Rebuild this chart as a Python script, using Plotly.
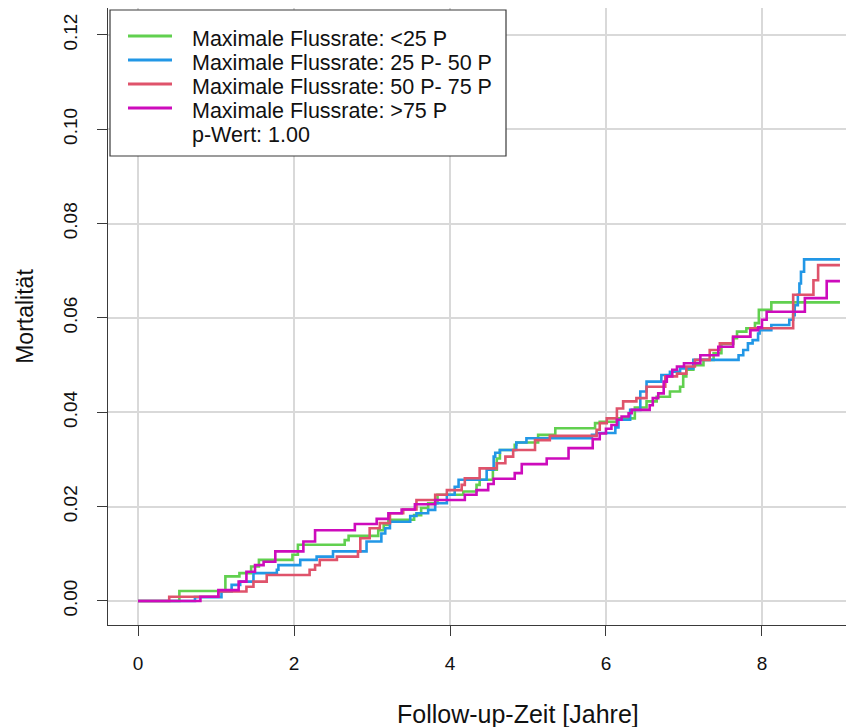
import plotly.graph_objects as go

# ---- data (cumulative mortality step functions) ----
green_t = [0, 0.53, 1.12, 1.30, 1.45, 1.55, 1.98, 2.05, 2.65, 2.70, 3.08, 3.15, 3.21, 3.54, 3.63, 3.72,
           3.84, 4.17, 4.34, 4.38, 4.55, 4.60, 4.64, 4.83, 4.85, 5.13, 5.35, 5.86, 5.92, 6.14, 6.37,
           6.52, 6.65, 6.82, 6.95, 6.99, 7.03, 7.12, 7.25, 7.38, 7.48, 7.63, 7.68, 7.80, 7.91, 7.96,
           8.12, 9.00]
green_m = [0, 0.0021, 0.0052, 0.0059, 0.0073, 0.0087, 0.0098, 0.0119, 0.0129, 0.0138, 0.0150, 0.0161,
           0.0172, 0.0182, 0.0197, 0.0207, 0.0225, 0.0232, 0.0246, 0.0257, 0.0278, 0.0302, 0.0320,
           0.0331, 0.0336, 0.0352, 0.0366, 0.0377, 0.0380, 0.0387, 0.0410, 0.0423, 0.0433, 0.0444,
           0.0454, 0.0476, 0.0490, 0.0500, 0.0511, 0.0525, 0.0545, 0.0557, 0.0571, 0.0578, 0.0589,
           0.0617, 0.0633, 0.0633]

blue_t = [0, 0.73, 1.07, 1.20, 1.31, 1.48, 1.78, 1.80, 2.08, 2.29, 2.50, 2.93, 3.12, 3.17, 3.23, 3.49,
          3.57, 3.72, 3.81, 3.96, 4.06, 4.11, 4.47, 4.56, 4.58, 4.64, 4.85, 4.98, 5.82, 5.88, 6.12,
          6.16, 6.31, 6.44, 6.52, 6.71, 6.82, 6.95, 7.12, 7.70, 7.76, 7.82, 7.88, 7.95, 7.97, 8.12,
          8.35, 8.40, 8.42, 8.46, 8.48, 8.50, 8.54, 9.00]
blue_m = [0, 0.0008, 0.0020, 0.0034, 0.0041, 0.0059, 0.0066, 0.0076, 0.0087, 0.0094, 0.0105, 0.0126,
          0.0143, 0.0154, 0.0168, 0.0180, 0.0186, 0.0193, 0.0207, 0.0225, 0.0242, 0.0257, 0.0278,
          0.0306, 0.0314, 0.0320, 0.0336, 0.0345, 0.0352, 0.0356, 0.0368, 0.0384, 0.0405, 0.0444,
          0.0465, 0.0479, 0.0486, 0.0493, 0.0511, 0.0521, 0.0532, 0.0546, 0.0553, 0.0567, 0.0574,
          0.0585, 0.0596, 0.0606, 0.0627, 0.0649, 0.0673, 0.0698, 0.0724, 0.0724]

red_t = [0, 0.40, 1.03, 1.39, 1.48, 1.65, 2.20, 2.27, 2.33, 2.55, 2.82, 2.85, 2.97, 3.10, 3.23, 3.40,
         3.57, 3.81, 3.96, 4.15, 4.19, 4.38, 4.60, 4.71, 4.81, 5.09, 5.28, 5.88, 5.92, 6.01, 6.14,
         6.22, 6.39, 6.52, 6.76, 6.91, 7.03, 7.14, 7.33, 7.46, 7.63, 7.85, 8.40, 8.66, 8.72, 9.00]
red_m = [0, 0.0009, 0.0020, 0.0030, 0.0041, 0.0055, 0.0066, 0.0076, 0.0087, 0.0094, 0.0105, 0.0133,
         0.0154, 0.0165, 0.0186, 0.0194, 0.0214, 0.0225, 0.0235, 0.0246, 0.0260, 0.0281, 0.0292,
         0.0306, 0.0320, 0.0341, 0.0350, 0.0363, 0.0377, 0.0387, 0.0408, 0.0423, 0.0430, 0.0454,
         0.0476, 0.0482, 0.0497, 0.0511, 0.0532, 0.0546, 0.0560, 0.0578, 0.0649, 0.0680, 0.0712,
         0.0712]

magenta_t = [0, 0.80, 1.03, 1.29, 1.39, 1.50, 1.61, 1.76, 2.12, 2.27, 2.78, 3.06, 3.21, 3.38, 3.55,
             3.81, 4.19, 4.34, 4.49, 4.56, 4.83, 4.92, 5.24, 5.52, 5.83, 5.92, 6.00, 6.07, 6.14, 6.20,
             6.29, 6.33, 6.56, 6.60, 6.67, 6.74, 6.78, 6.85, 6.91, 7.00, 7.21, 7.44, 7.63, 7.85, 7.95,
             8.00, 8.06, 8.55, 8.83, 9.00]
magenta_m = [0, 0.0009, 0.0023, 0.0041, 0.0062, 0.0076, 0.0083, 0.0105, 0.0126, 0.0150, 0.0163,
             0.0174, 0.0186, 0.0194, 0.0205, 0.0214, 0.0225, 0.0235, 0.0248, 0.0259, 0.0271, 0.0290,
             0.0302, 0.0324, 0.0343, 0.0355, 0.0365, 0.0373, 0.0384, 0.0391, 0.0398, 0.0405, 0.0415,
             0.0430, 0.0440, 0.0465, 0.0476, 0.0490, 0.0497, 0.0504, 0.0521, 0.0539, 0.0560, 0.0574,
             0.0580, 0.0596, 0.0613, 0.0642, 0.0678, 0.0678]

series_names = ["Maximale Flussrate: <25 P", "Maximale Flussrate: 25 P- 50 P",
                "Maximale Flussrate: 50 P- 75 P", "Maximale Flussrate: >75 P"]
series_colors = ["#61D04F", "#2297E6", "#DF536B", "#CD0BBC"]
p_label = "p-Wert: 1.00"

x_ticks = [0, 2, 4, 6, 8]
y_ticks = [0.00, 0.02, 0.04, 0.06, 0.08, 0.10, 0.12]
y_ticktext = ["0.00", "0.02", "0.04", "0.06", "0.08", "0.10", "0.12"]
x_title = "Follow-up-Zeit [Jahre]"
y_title = "Mortalität"

# ---- layout geometry (page has an 8px body margin) ----
OFF = 8
W, H = 854 - OFF, 727 - OFF
ML, MR, MT, MB = 100, 0, 0, 102
PW, PH = W - ML - MR, H - MT - MB
FONT = "Liberation Sans, Arial, Helvetica, sans-serif"


def pxx(x):
    # page pixel x -> paper coordinate
    return (x - OFF - ML) / PW


def pxy(y):
    # page pixel y -> paper coordinate
    return (H - MB - (y - OFF)) / PH


all_t = [green_t, blue_t, red_t, magenta_t]
all_m = [green_m, blue_m, red_m, magenta_m]

fig = go.Figure()
for t, m, name, col in zip(all_t, all_m, series_names, series_colors):
    assert len(t) == len(m)
    fig.add_trace(go.Scatter(x=t, y=m, mode="lines", name=name, showlegend=False,
                             line=dict(color=col, width=2.6, shape="hv")))

axis_common = dict(showline=True, linecolor="#3a3a3a", linewidth=1.2, mirror=False,
                   ticks="outside", ticklen=10, tickcolor="#3a3a3a", tickwidth=1.2,
                   showgrid=True, gridcolor="#d9d9d9", gridwidth=1.8, zeroline=False,
                   tickfont=dict(family=FONT, size=19, color="#111"))

fig.update_xaxes(range=[-0.385, 9.18], tickvals=x_ticks, ticktext=[str(v) for v in x_ticks],
                 ticklabelstandoff=11, **axis_common)
fig.update_yaxes(range=[-0.0051, 0.1257], tickvals=y_ticks, ticktext=y_ticktext, tickangle=-90,
                 ticklabelstandoff=12,
                 title=dict(text=y_title, font=dict(family=FONT, size=23, color="#111"), standoff=20),
                 **axis_common)

# ---- legend box drawn like the R legend ----
shapes = [dict(type="rect", xref="paper", yref="paper", x0=pxx(110), x1=pxx(506),
               y0=pxy(156), y1=pxy(10), line=dict(color="#3a3a3a", width=1.2),
               fillcolor="white", layer="above")]
annotations = []
row_y = [39, 63, 87, 111, 135]
for i, (name, col) in enumerate(zip(series_names, series_colors)):
    shapes.append(dict(type="line", xref="paper", yref="paper", x0=pxx(128), x1=pxx(172),
                       y0=pxy(row_y[i] - 3), y1=pxy(row_y[i] - 3),
                       line=dict(color=col, width=3), layer="above"))
    annotations.append(dict(text=name, xref="paper", yref="paper", x=pxx(190), y=pxy(row_y[i]),
                            xanchor="left", yanchor="middle", showarrow=False,
                            font=dict(family=FONT, size=21.5, color="#111")))
annotations.append(dict(text=p_label, xref="paper", yref="paper", x=pxx(190), y=pxy(row_y[4]),
                        xanchor="left", yanchor="middle", showarrow=False,
                        font=dict(family=FONT, size=21.5, color="#111")))

# x-axis title (the original plot region extends beyond the cropped right edge)
annotations.append(dict(text=x_title, xref="paper", yref="paper", x=pxx(518), y=pxy(714),
                        xanchor="center", yanchor="middle", showarrow=False,
                        font=dict(family=FONT, size=25, color="#111")))

fig.update_layout(width=W, height=H, margin=dict(l=ML, r=MR, t=MT, b=MB, autoexpand=False),
                  plot_bgcolor="white", paper_bgcolor="white", shapes=shapes,
                  annotations=annotations, font=dict(family=FONT))

fig.write_html("out.html")
